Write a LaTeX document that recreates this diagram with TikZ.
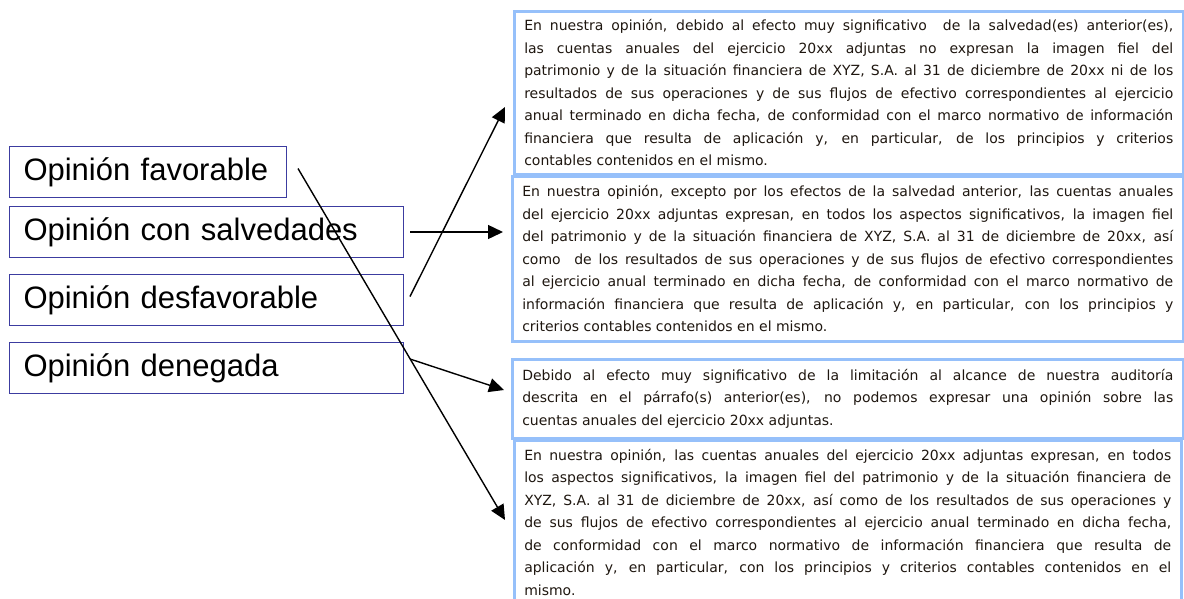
\documentclass[tikz,border=0pt]{standalone}
\usepackage{fontspec}
\setmainfont{DejaVu Sans}
\newfontfamily\labelfont{Liberation Sans}
\usetikzlibrary{arrows.meta,calc}
\definecolor{optblue}{RGB}{60,60,160}
\definecolor{parablue}{RGB}{150,192,250}
\definecolor{paratext}{RGB}{30,22,15}

\begin{document}
\begin{tikzpicture}[
    x=1pt, y=-1pt,
    optbox/.style={draw=optblue, line width=1pt, anchor=north west, minimum height=51pt,
        inner xsep=14pt, align=left, font=\labelfont\fontsize{31}{36}\selectfont},
    parabox/.style={draw=parablue, line width=2.5pt, anchor=north west, inner xsep=10pt,
        inner ysep=6pt, align=justify, text=paratext, font=\fontsize{14}{22.5}\selectfont,
        execute at begin node={\hyphenpenalty=10000 \tolerance=10000 }},
    arr/.style={-{Triangle[length=15pt,width=14pt]}, line width=1.4pt},
]
\useasboundingbox (0,0) rectangle (1184,598);

% Opinion types
\node[optbox, text width=249pt] (fav) at (9,146) {Opinión favorable};
\node[optbox, text width=366pt] (sal) at (9,206) {Opinión con salvedades};
\node[optbox, text width=366pt] (desf) at (9,274) {Opinión desfavorable};
\node[optbox, text width=366pt] (deneg) at (9,342) {Opinión denegada};

% Paragraphs
\node[parabox, text width=649pt, minimum height=163pt] (txtdesf) at (513,10) {%
En nuestra opinión, debido al efecto muy significativo\ \ de la salvedad(es) anterior(es),\linebreak
las cuentas anuales del ejercicio 20xx adjuntas no expresan la imagen fiel del\linebreak
patrimonio y de la situación financiera de XYZ, S.A. al 31 de diciembre de 20xx ni de los\linebreak
resultados de sus operaciones y de sus flujos de efectivo correspondientes al ejercicio\linebreak
anual terminado en dicha fecha, de conformidad con el marco normativo de información\linebreak
financiera que resulta de aplicación y, en particular, de los principios y criterios\linebreak
contables contenidos en el mismo.};

\node[parabox, text width=651pt, minimum height=165pt] (txtsal) at (511,175) {%
En nuestra opinión, excepto por los efectos de la salvedad anterior, las cuentas anuales\linebreak
del ejercicio 20xx adjuntas expresan, en todos los aspectos significativos, la imagen fiel\linebreak
del patrimonio y de la situación financiera de XYZ, S.A. al 31 de diciembre de 20xx, así\linebreak
como\ \ de los resultados de sus operaciones y de sus flujos de efectivo correspondientes\linebreak
al ejercicio anual terminado en dicha fecha, de conformidad con el marco normativo de\linebreak
información financiera que resulta de aplicación y, en particular, con los principios y\linebreak
criterios contables contenidos en el mismo.};

\node[parabox, text width=651pt, minimum height=79pt] (txtdeneg) at (511,358) {%
Debido al efecto muy significativo de la limitación al alcance de nuestra auditoría\linebreak
descrita en el párrafo(s) anterior(es), no podemos expresar una opinión sobre las\linebreak
cuentas anuales del ejercicio 20xx adjuntas.};

% last box runs past the bottom edge
\node[parabox, text width=647pt] (txtfav) at (513,439) {%
\rule{0pt}{14pt}En nuestra opinión, las cuentas anuales del ejercicio 20xx adjuntas expresan, en todos\linebreak
los aspectos significativos, la imagen fiel del patrimonio y de la situación financiera de\linebreak
XYZ, S.A. al 31 de diciembre de 20xx, así como de los resultados de sus operaciones y\linebreak
de sus flujos de efectivo correspondientes al ejercicio anual terminado en dicha fecha,\linebreak
de conformidad con el marco normativo de información financiera que resulta de\linebreak
aplicación y, en particular, con los principios y criterios contables contenidos en el\linebreak
mismo.\rule[-20pt]{0pt}{0pt}};

% Arrows
\draw[arr] ($(fav.east)+(11,-3.5)$) -- ($(txtfav.north west)+(-8,81)$);
\draw[arr] ($(sal.east)+(6,0)$) -- ($(sal.east -| txtsal.west)+(-8,0)$);
\draw[arr] ($(desf.east)+(6,-3.5)$) -- ($(txtdesf.north west)+(-8,97)$);
\draw[arr] ($(deneg.east)+(6,-9)$) -- ($(txtdeneg.north west)+(-7,32)$);
\end{tikzpicture}
\end{document}
